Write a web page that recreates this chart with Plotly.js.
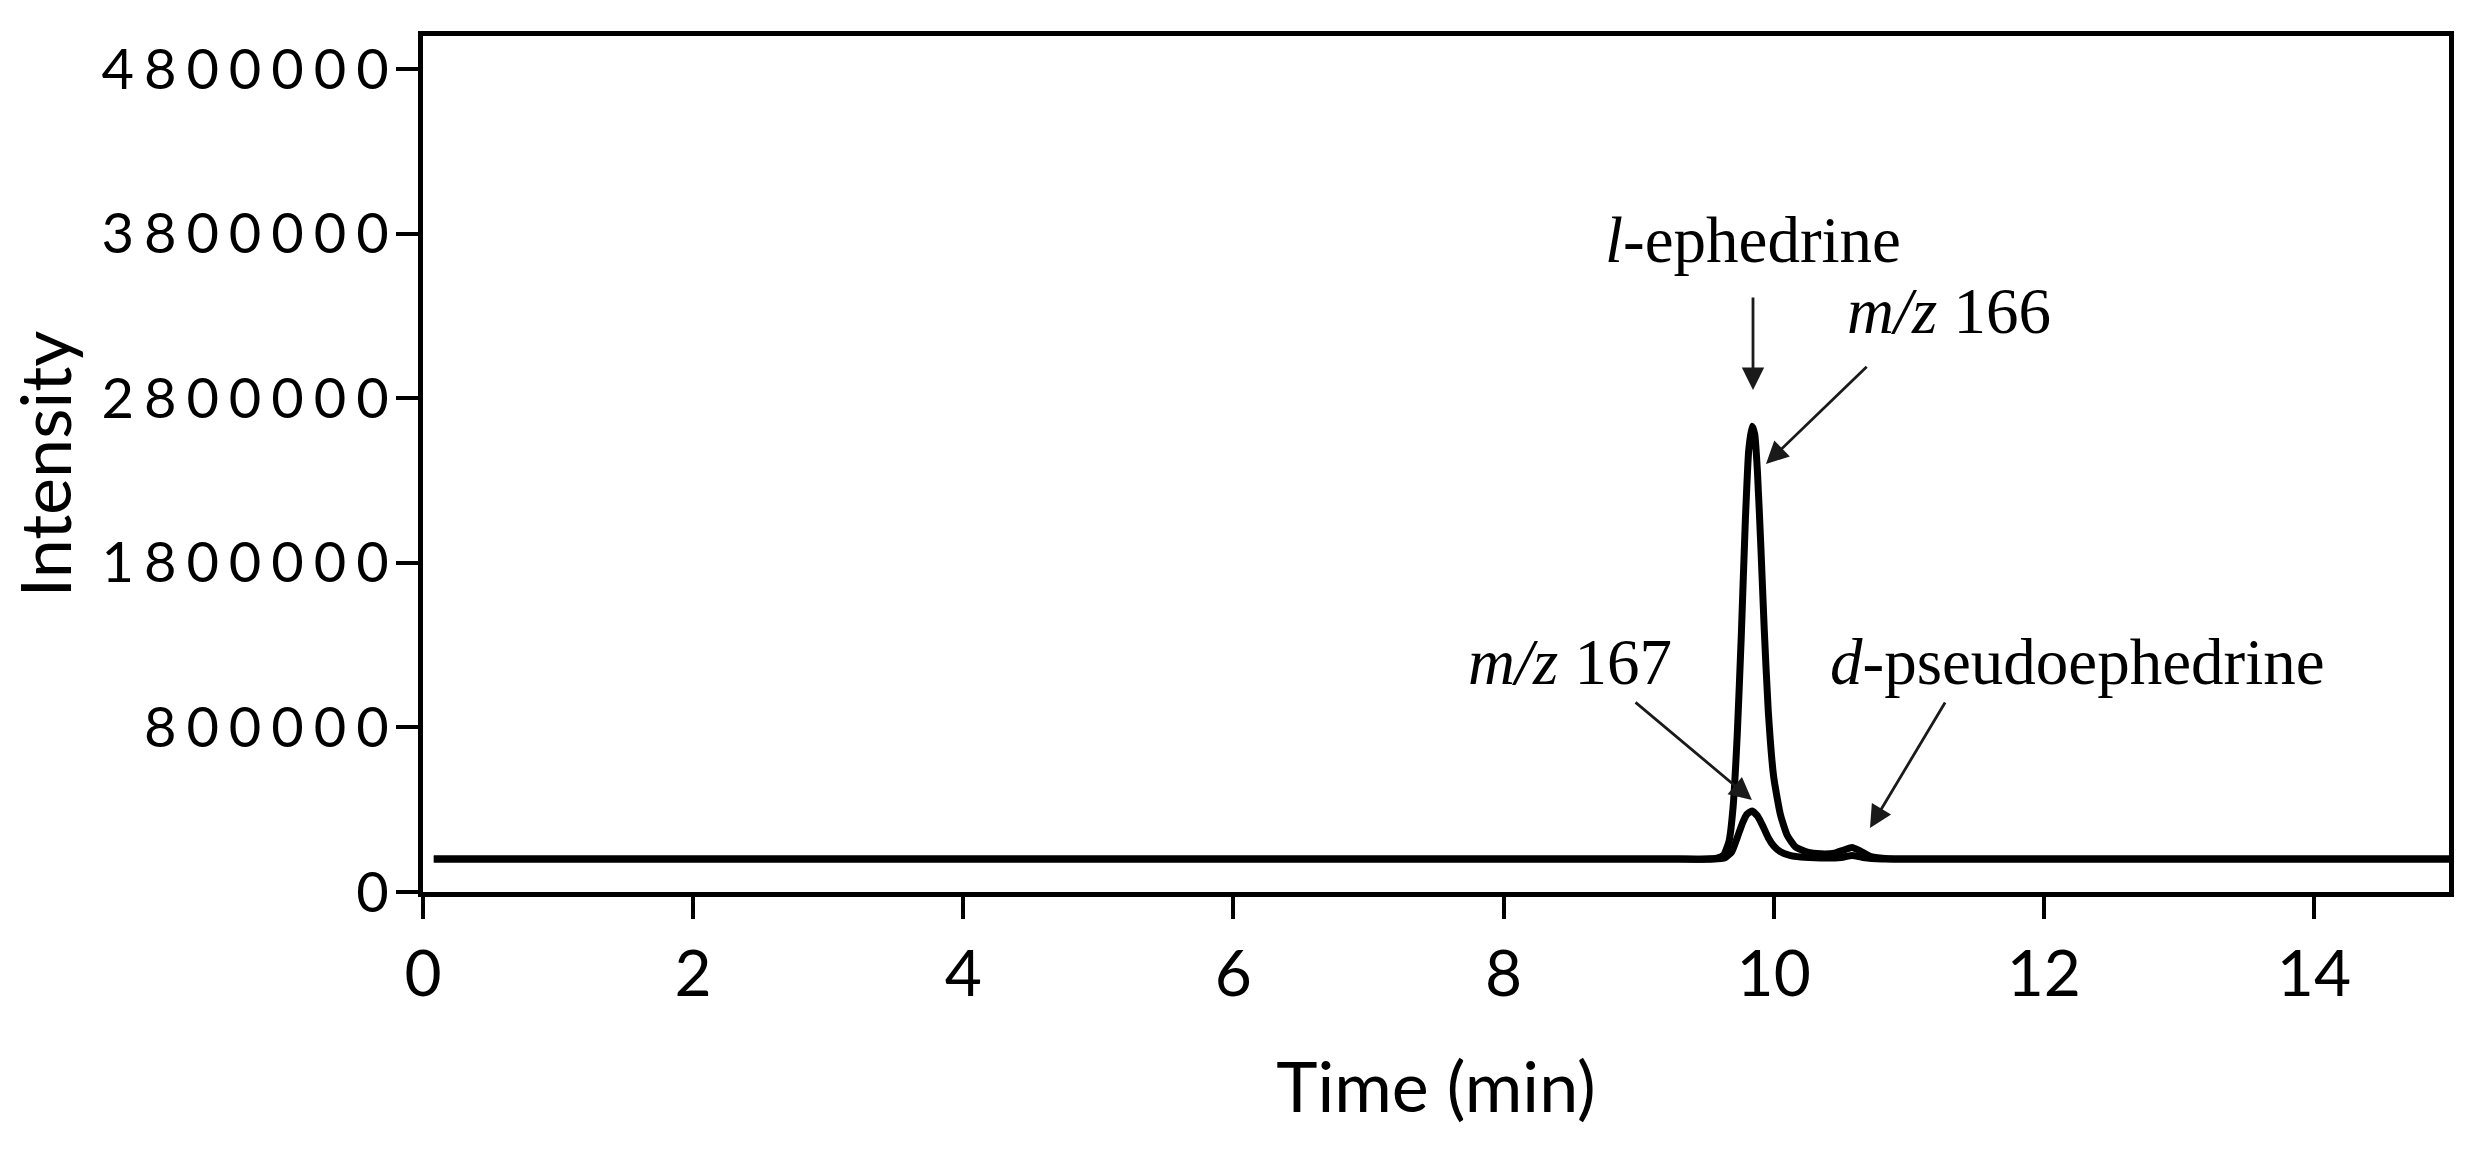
<!DOCTYPE html>
<html>
<head>
<meta charset="utf-8">
<script src="https://cdn.plot.ly/plotly-3.0.1.min.js"></script>
<style>
  html, body { margin: 0; padding: 0; background: #fff; }
  #chart { width: 2481px; height: 1155px; }
  .ytick text { letter-spacing: 10px; }
</style>
</head>
<body>
<div id="chart"></div>
<script>
// ---- data ----
const time166 = [0.08, 5.0, 9.30, 9.50, 9.58, 9.63, 9.67, 9.70, 9.73, 9.76, 9.79, 9.815, 9.84, 9.86, 9.88, 9.905, 9.93, 9.96, 10.00, 10.05, 10.10, 10.16, 10.25, 10.35, 10.45, 10.52, 10.58, 10.64, 10.72, 10.85, 11.10, 13.0, 15.0];
const int166  = [0, 0, 0, 0, 5000, 25000, 110000, 320000, 750000, 1350000, 2050000, 2480000, 2630000, 2580000, 2350000, 1900000, 1400000, 900000, 500000, 270000, 145000, 75000, 42000, 32000, 36000, 55000, 70000, 50000, 15000, 2000, 0, 0, 0];

const time167 = [0.08, 5.0, 9.30, 9.55, 9.64, 9.69, 9.73, 9.77, 9.80, 9.84, 9.88, 9.92, 9.96, 10.00, 10.05, 10.12, 10.20, 10.35, 10.50, 10.58, 10.66, 10.80, 11.10, 13.0, 15.0];
const int167  = [0, 0, 0, 0, 8000, 45000, 130000, 220000, 270000, 292000, 262000, 200000, 130000, 80000, 45000, 22000, 12000, 7000, 10000, 22000, 10000, 1000, 0, 0, 0];

const xTickVals = [0, 2, 4, 6, 8, 10, 12, 14];
const yTickVals = [-200000, 800000, 1800000, 2800000, 3800000, 4800000];
const yTickText = ["0", "800000", "1800000", "2800000", "3800000", "4800000"];

const labelText = ["<i>l</i>-ephedrine", "<i>m/z</i> 166", "<i>m/z</i> 167", "<i>d</i>-pseudoephedrine"];
const labelX    = [9.847, 11.30, 8.492, 12.253];
const labelY    = [3760000, 3330000, 1200000, 1200000];

// arrows: head (x,y) and tail (ax,ay)
const arrowX  = [9.847, 9.943, 9.839, 10.713];
const arrowY  = [2849800, 2400000, 358900, 188800];
const arrowAX = [9.847, 10.70, 8.966, 11.276];
const arrowAY = [3420000, 3000000, 960000, 960000];

const traces = [
  { x: time166, y: int166, type: 'scatter', mode: 'lines', name: 'm/z 166',
    line: { color: '#000', width: 7, shape: 'spline', smoothing: 0.5 } },
  { x: time167, y: int167, type: 'scatter', mode: 'lines', name: 'm/z 167',
    line: { color: '#000', width: 7, shape: 'spline', smoothing: 0.5 } }
];

const annFont = { family: 'Liberation Serif, Times New Roman, serif', size: 65, color: '#000' };
const annotations = [];
for (let i = 0; i < labelText.length; i++) {
  annotations.push({ x: labelX[i], y: labelY[i], xref: 'x', yref: 'y', text: labelText[i],
    showarrow: false, xanchor: 'center', yanchor: 'middle', font: annFont });
}
for (let i = 0; i < arrowX.length; i++) {
  annotations.push({ x: arrowX[i], y: arrowY[i], xref: 'x', yref: 'y',
    ax: arrowAX[i], ay: arrowAY[i], axref: 'x', ayref: 'y', text: '',
    showarrow: true, arrowhead: 2, arrowsize: 1.6, arrowwidth: 2.8, arrowcolor: '#1a1a1a',
    standoff: 0, startstandoff: 0 });
}

const layout = {
  width: 2481, height: 1155,
  margin: { l: 423, r: 32, t: 36, b: 263, pad: 0 },
  paper_bgcolor: '#fff', plot_bgcolor: '#fff',
  showlegend: false,
  xaxis: {
    range: [0, 15], tickvals: xTickVals, ticktext: xTickVals.map(String),
    showline: true, linecolor: '#000', linewidth: 5, mirror: true,
    ticks: 'outside', ticklen: 22, tickwidth: 4, tickcolor: '#000',
    showgrid: false, zeroline: false,
    tickfont: { family: 'Lato, Open Sans, sans-serif', size: 64, color: '#000' },
    title: { text: 'Time (min)', font: { family: 'Lato, Open Sans, sans-serif', size: 70, color: '#000' }, standoff: 56 }
  },
  yaxis: {
    range: [-200000, 5000000], tickvals: yTickVals, ticktext: yTickText,
    showline: true, linecolor: '#000', linewidth: 5, mirror: true,
    ticks: 'outside', ticklen: 22, tickwidth: 4, tickcolor: '#000',
    showgrid: false, zeroline: false, ticklabelstandoff: -14,
    tickfont: { family: 'Lato, Open Sans, sans-serif', size: 56, color: '#000' },
    title: { text: 'Intensity', font: { family: 'Lato, Open Sans, sans-serif', size: 70, color: '#000' }, standoff: 8 }
  },
  annotations: annotations
};

Plotly.newPlot('chart', traces, layout, { staticPlot: true, displayModeBar: false });
</script>
</body>
</html>
